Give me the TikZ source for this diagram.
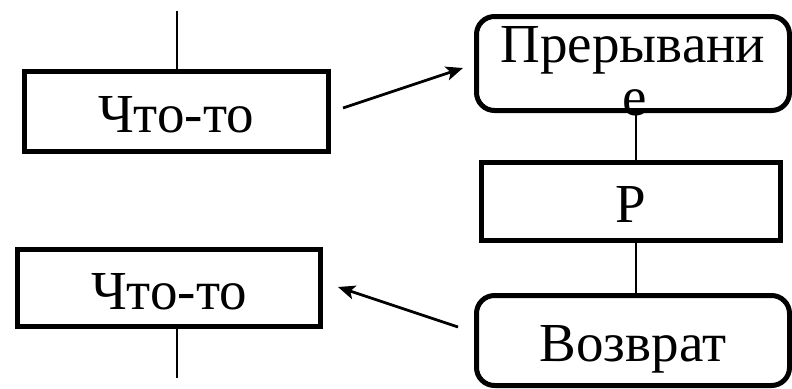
\documentclass[tikz,border=0pt]{standalone}
\usepackage{fontspec}
\setmainfont{Liberation Serif}
\usetikzlibrary{arrows.meta}

\tikzset{
  blk/.style={draw, line width=5pt, inner sep=0pt, text height=42pt, text depth=0pt,
              font=\fontsize{55}{48}\selectfont},
  rblk/.style={blk, rounded corners=18pt},
  wire/.style={line width=2.7pt},
  arr/.style={line width=2.7pt, -{Stealth[length=17pt, width=14pt, inset=4pt]}}
}

\begin{document}
\begin{tikzpicture}[x=1pt, y=-1pt]
  \clip (0,0) rectangle (792,388);

  % left column: program flow
  \node[blk, minimum width=304pt, minimum height=80pt] (lt) at (176,111.5) {Что-то};
  \node[blk, minimum width=303pt, minimum height=77pt] (lb) at (169,288) {Что-то};

  % right column: interrupt handling
  \node[rblk, minimum width=313pt, minimum height=94pt, text height=20pt, text depth=23pt,
        font=\fontsize{55}{53}\selectfont]
    (int) at (633,63.5) {\begin{tabular}[t]{@{}c@{}}Прерывани\\\hspace*{4pt}е\end{tabular}};
  \node[blk, minimum width=299pt, minimum height=78pt] (p) at (631,201.5) {Р};
  \node[rblk, minimum width=313pt, minimum height=90pt] (ret) at (633,340.5) {Возврат};

  % free ends
  \coordinate (intop) at (177,11);
  \coordinate (inbot) at (177,378);
  \coordinate (a1s) at (343,108);
  \coordinate (a1e) at (463,68);
  \coordinate (a2s) at (458,327);
  \coordinate (a2e) at (338,287);

  % vertical connectors
  \draw[wire] (intop) -- (intop |- lt.north);
  \draw[wire] (inbot |- lb.south) -- (inbot);
  \draw[wire] ([xshift=3pt]int.south) -- ([xshift=3pt]int.south |- p.north);
  \draw[wire] ([xshift=3pt]int.south |- p.south) -- ([xshift=3pt]int.south |- ret.north);

  % jumps to and from the handler
  \draw[arr] (a1s) -- (a1e);
  \draw[arr] (a2s) -- (a2e);
\end{tikzpicture}
\end{document}
